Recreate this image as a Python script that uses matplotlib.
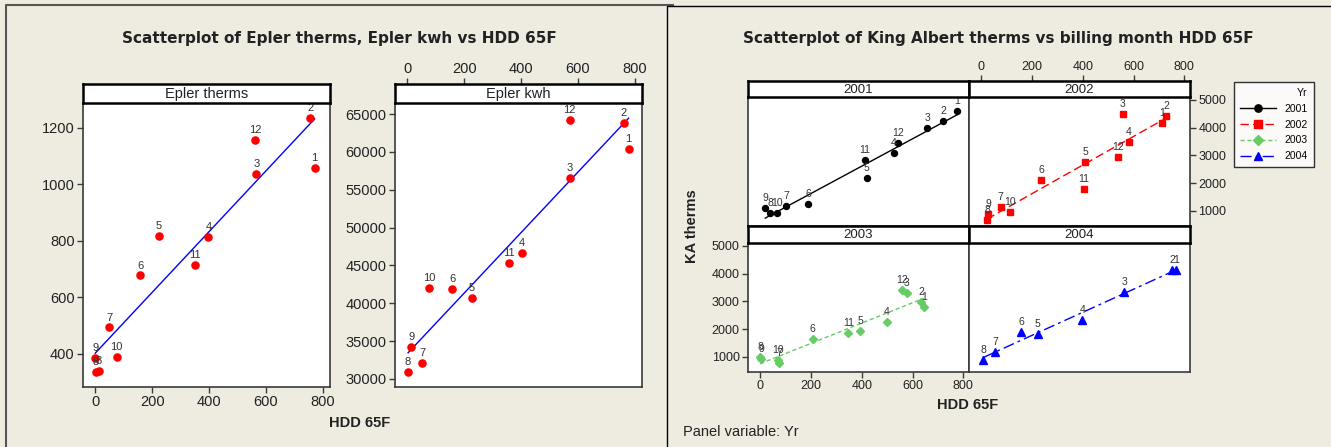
import numpy as np
import matplotlib.pyplot as plt
from matplotlib.lines import Line2D

plt.rcParams['font.family'] = ['Liberation Sans', 'DejaVu Sans']

W, H = 1331, 447
BG = '#EEEBE1'
TXT = '#222222'

# Epler, left side
months = ['1', '2', '3', '4', '5', '6', '7', '8', '9', '10', '11', '12']
therms_hdd = [772, 756, 567, 398, 224, 159, 50, 3, 0, 75, 352, 563, 12]
therms_val = [1059, 1234, 1038, 814, 818, 678, 494, 336, 385, 388, 715, 1157, 341]
therms_lab = months + ['8']

kwh_hdd = [779, 762, 571, 403, 227, 159, 53, 3, 15, 76, 359, 571]
kwh_val = [60420, 63810, 56590, 46640, 40700, 41880, 32150, 30920, 34260, 42050, 45280, 64250]

# King Albert, right side
years = ['2001', '2002', '2003', '2004']
hdd_2001 = [775, 720, 658, 526, 420, 188, 103, 40, 20, 66, 413, 544]
ka_2001 = [4586, 4251, 3985, 3086, 2176, 1266, 1169, 917, 1097, 928, 2834, 3460]
hdd_2002 = [711, 728, 558, 582, 409, 235, 77, 23, 28, 113, 405, 540]
ka_2002 = [4165, 4417, 4503, 3471, 2751, 2129, 1133, 665, 881, 964, 1791, 2956]
hdd_2003 = [644, 633, 577, 498, 394, 207, 75, 0, 4, 71, 347, 560]
ka_2003 = [2812, 2978, 3302, 2259, 1924, 1661, 784, 1000, 917, 881, 1852, 3399]
hdd_2004 = [768, 753, 564, 398, 222, 158, 54, 9]
ka_2004 = [4118, 4143, 3338, 2345, 1841, 1888, 1179, 881]

hdd_ticks = list(range(0, 801, 200))

fig = plt.figure(figsize=(W / 100, H / 100), dpi=100, facecolor=BG)


def px_axes(x0, y0, x1, y1):
    return fig.add_axes([x0 / W, 1 - y1 / H, (x1 - x0) / W, (y1 - y0) / H])


def strip(x0, y0, x1, y1, text, size, xlim=None, tick_size=10.5):
    ax = px_axes(x0, y0, x1, y1)
    ax.set_facecolor('white')
    ax.set_yticks([])
    if xlim is None:
        ax.set_xticks([])
    else:
        # top HDD axis sits above the strip
        ax.set_xlim(*xlim)
        ax.set_xticks(hdd_ticks)
        ax.xaxis.tick_top()
        ax.tick_params(direction='out', length=4, width=1, color='#3a3a3a',
                       labelcolor=TXT, labelsize=tick_size, pad=2)
    for s in ax.spines.values():
        s.set_linewidth(1.8)
        s.set_color('black')
    ax.text(0.5, 0.45, text, ha='center', va='center', fontsize=size, color=TXT,
            transform=ax.transAxes)
    return ax


def panel(x0, y0, x1, y1):
    ax = px_axes(x0, y0, x1, y1)
    ax.set_facecolor('white')
    for s in ax.spines.values():
        s.set_linewidth(1.2)
        s.set_color('#3a3a3a')
    ax.tick_params(direction='out', length=4, width=1, color='#3a3a3a',
                   labelcolor=TXT, pad=2)
    return ax


def fit_line(ax, x, y, **kw):
    x = np.asarray(x, float)
    k, b = np.polyfit(x, y, 1)
    xs = np.array([x.min(), x.max()])
    ax.plot(xs, k * xs + b, zorder=2, **kw)


def label_points(ax, x, y, labels, size):
    for xi, yi, t in zip(x, y, labels):
        ax.annotate(t, (xi, yi), xytext=(0, 3.5), textcoords='offset points',
                    ha='center', va='bottom', fontsize=size, color='#333333')


# frames
fig.add_artist(Line2D([6 / W, 6 / W, 673 / W], [0, 1 - 5 / H, 1 - 5 / H],
                      color='#555555', lw=1.5))
fig.add_artist(Line2D([667 / W, 667 / W, 1], [0, 1 - 6 / H, 1 - 6 / H],
                      color='black', lw=1))

# ---- left: Epler
fig.text(339 / W, 1 - 38 / H, 'Scatterplot of Epler therms, Epler kwh vs HDD 65F',
         ha='center', va='center', fontsize=11, fontweight='bold', color=TXT,
         family='DejaVu Sans')

hdd_lim = (-43, 826)

ax = panel(83, 103, 330, 387)
ax.scatter(therms_hdd, therms_val, s=38, color='red', zorder=3, linewidths=0)
fit_line(ax, therms_hdd, therms_val, color='blue', lw=1)
label_points(ax, therms_hdd, therms_val, therms_lab, 8)
ax.set_xlim(*hdd_lim)
ax.set_ylim(283, 1288)
ax.set_xticks(hdd_ticks)
ax.set_yticks(range(400, 1201, 200))
ax.tick_params(labelsize=10.5)
strip(83, 84, 330, 103, 'Epler therms', 10.5)

ax = panel(395, 103, 642, 387)
ax.scatter(kwh_hdd, kwh_val, s=38, color='red', zorder=3, linewidths=0)
fit_line(ax, kwh_hdd, kwh_val, color='blue', lw=1)
label_points(ax, kwh_hdd, kwh_val, months, 8)
ax.set_xlim(*hdd_lim)
ax.set_ylim(28943, 66453)
ax.set_xticks([])
ax.set_yticks(range(30000, 65001, 5000))
ax.tick_params(labelsize=10.5)
strip(395, 84, 642, 103, 'Epler kwh', 10.5, xlim=hdd_lim)

fig.text(360 / W, 1 - 423 / H, 'HDD 65F', ha='center', va='center',
         fontsize=10.5, fontweight='bold', color=TXT)

# ---- right: King Albert
fig.text(998 / W, 1 - 39 / H, 'Scatterplot of King Albert therms vs billing month HDD 65F',
         ha='center', va='center', fontsize=11, fontweight='bold', color=TXT,
         family='DejaVu Sans')

series = [
    (hdd_2001, ka_2001, 'black', 'o', 4.3, None),
    (hdd_2002, ka_2002, 'red', 's', 4.4, (6, 3)),
    (hdd_2003, ka_2003, '#66CC66', 'D', 4.4, (3, 2)),
    (hdd_2004, ka_2004, 'blue', '^', 5.4, (8, 3, 2, 3)),
]
boxes = [(748, 97, 969, 226), (969, 97, 1190, 226),
         (748, 243, 969, 372), (969, 243, 1190, 372)]
ka_lim = (-48, 822)
handles = []
for i, (x, y, c, m, ms, dash) in enumerate(series):
    x0, y0, x1, y1 = boxes[i]
    ax = panel(x0, y0, x1, y1)
    ax.plot(x, y, ls='none', marker=m, ms=ms, color=c, mec=c, zorder=3)
    kw = dict(color=c, lw=1)
    if dash is not None:
        kw['dashes'] = dash
    fit_line(ax, x, y, **kw)
    label_points(ax, x, y, months[:len(x)], 7.5)
    ax.set_xlim(*ka_lim)
    ax.set_ylim(460, 5100)
    ax.set_xticks(hdd_ticks)
    ax.set_yticks(range(1000, 5001, 1000))
    ax.tick_params(labelsize=9)
    if i in (0, 3):
        ax.tick_params(left=False, bottom=False, labelleft=False, labelbottom=False)
    elif i == 1:
        ax.set_xticks([])
        ax.yaxis.tick_right()
    sy0 = y0 - 16 if i < 2 else y0 - 17
    strip(x0, sy0, x1, y0, years[i], 9.5,
          xlim=ka_lim if i == 1 else None, tick_size=9)
    h = Line2D([], [], color=c, marker=m, ms=ms + 1, lw=1)
    if dash is not None:
        h.set_dashes(dash)
    handles.append(h)

fig.text(692 / W, 1 - 226 / H, 'KA therms', rotation=90, ha='center', va='center',
         fontsize=10.5, fontweight='bold', color=TXT)
fig.text(968 / W, 1 - 405 / H, 'HDD 65F', ha='center', va='center',
         fontsize=10.5, fontweight='bold', color=TXT)
fig.text(683 / W, 1 - 432 / H, 'Panel variable: Yr', ha='left', va='center',
         fontsize=10.5, color=TXT)

leg = fig.legend(handles, years, title='Yr', alignment='right', loc='upper left',
                 bbox_to_anchor=(1234 / W, 1 - 82 / H), borderaxespad=0,
                 fontsize=7.5, title_fontsize=7.5,
                 frameon=True, fancybox=False, edgecolor='black', facecolor='white',
                 handlelength=3.4, labelspacing=0.55, borderpad=0.6)
leg.get_frame().set_linewidth(1)

fig.savefig('out.png', dpi=100, facecolor=BG)
